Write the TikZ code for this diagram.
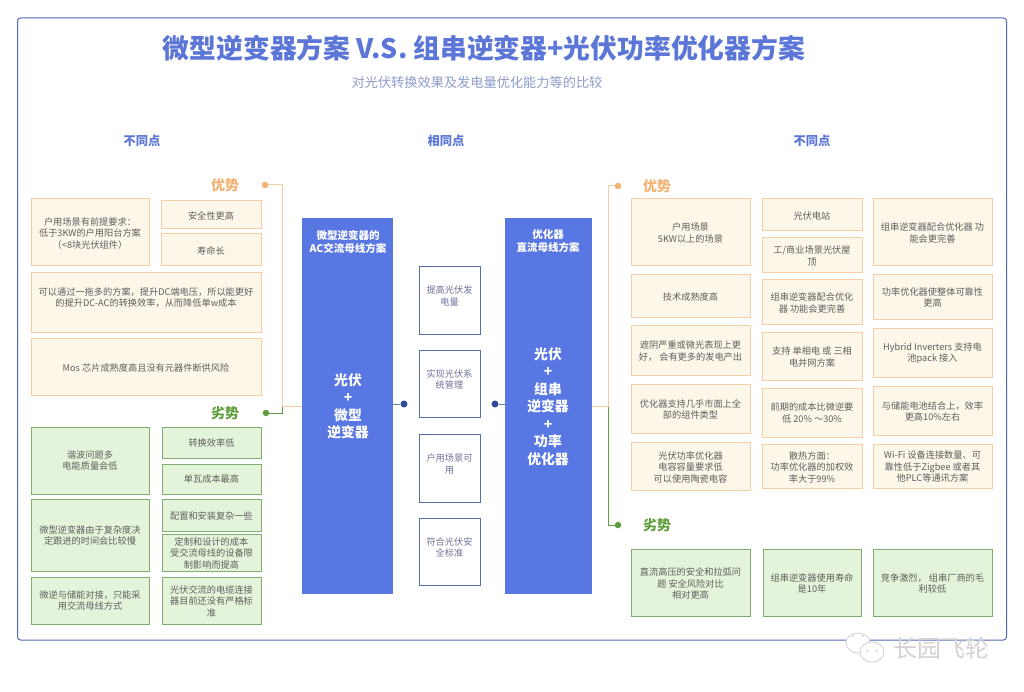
\documentclass[tikz,border=0pt]{standalone}
\usepackage{fontspec}
\setmainfont{Noto Sans CJK SC}
\definecolor{framecol}{HTML}{4F68B8}
\definecolor{titlecol}{HTML}{5B76D6}
\definecolor{subcol}{HTML}{8E9BCB}
\definecolor{bluefill}{HTML}{5877E2}
\definecolor{navycol}{HTML}{2F4A96}
\definecolor{samecol}{HTML}{6E7398}
\definecolor{goodfill}{HTML}{FDF7EA}
\definecolor{gooddraw}{HTML}{F6CDA6}
\definecolor{goodtext}{HTML}{F2B272}
\definecolor{badfill}{HTML}{E4F4DA}
\definecolor{baddraw}{HTML}{80AE70}
\definecolor{badtext}{HTML}{5F9E3E}
\definecolor{boxtextcol}{HTML}{5E5E5E}
\tikzset{
  goodbox/.style={draw=gooddraw, fill=goodfill, line width=1pt},
  badbox/.style={draw=baddraw, fill=badfill, line width=1pt},
  samebox/.style={draw=navycol!80, fill=white, line width=.9pt},
  bluebox/.style={draw=none, fill=bluefill},
  boxtext/.style={text=boxtextcol, align=center, inner sep=0pt, font=\fontsize{9.2}{11.5}\selectfont},
  sametext/.style={text=samecol, align=center, inner sep=0pt, font=\fontsize{9.2}{11.5}\selectfont},
  blueheader/.style={text=white, align=center, inner sep=0pt, font=\bfseries\fontsize{10.5}{13}\selectfont},
  bluebody/.style={text=white, align=center, inner sep=0pt, font=\bfseries\fontsize{13.8}{17.5}\selectfont},
  headtext/.style={text=titlecol, inner sep=0pt, font=\bfseries\fontsize{12.3}{14}\selectfont},
  goodlabel/.style={text=goodtext, inner sep=0pt, font=\bfseries\fontsize{14}{16}\selectfont},
  badlabel/.style={text=badtext, inner sep=0pt, font=\bfseries\fontsize{14}{16}\selectfont},
  gooddot/.style={circle, fill=goodtext, inner sep=0pt, minimum size=6.5pt},
  baddot/.style={circle, fill=badtext, inner sep=0pt, minimum size=6.5pt},
  navydot/.style={circle, fill=navycol, inner sep=0pt, minimum size=7pt},
  goodline/.style={draw=gooddraw, line width=1pt},
  badline/.style={draw=badtext, line width=.9pt},
  navyline/.style={draw=navycol!70, line width=.9pt},
}
% #1 style, #2 name, #3-#6 corners, #7 text height, #8 text
\newcommand\featbox[8]{
  \node[#1, inner sep=0pt, outer sep=0pt, minimum width={(#5-#3)*1pt}, minimum height={(#6-#4)*1pt}] (#2) at ({(#3+#5)/2}, {(#4+#6)/2}) {} ;
  \node[boxtext] (#2text) at ({(#3+#5)/2}, #7) {#8} ;
}
\newcommand\samepoint[4]{
  \node[samebox, inner sep=0pt, outer sep=0pt, minimum width=61pt, minimum height={(#3-#2)*1pt}] (#1) at (449.5, {(#2+#3)/2}) {} ;
  \node[sametext] (#1text) at (449.5, {(#2+#3)/2-4}) {#4} ;
}
\begin{document}
\begin{tikzpicture}[x=1pt, y=-1pt]
    \useasboundingbox (0, 0) rectangle (1024, 692) ;
    \draw[framecol, line width=1pt, rounded corners=3pt] (17.5, 18) rectangle (1006.5, 640) ;
    \node[text=titlecol, inner sep=0pt, font=\bfseries\fontsize{26.8}{30}\selectfont] (title) at (484, 48) {微型逆变器方案 V.S. 组串逆变器+光伏功率优化器方案} ;
    \node[text=subcol, inner sep=0pt, font=\fontsize{13.2}{16}\selectfont] (subtitle) at (477, 82.5) {对光伏转换效果及发电量优化能力等的比较} ;
    \node[headtext] (diffl) at (142, 141) {不同点} ;
    \node[headtext] (same) at (446, 141) {相同点} ;
    \node[headtext] (diffr) at (812, 141) {不同点} ;

    \node[bluebox, minimum width=91pt, minimum height=376pt, inner sep=0pt, outer sep=0pt] (microbar) at (347.5, 406) {} ;
    \node[bluebox, minimum width=87pt, minimum height=376pt, inner sep=0pt, outer sep=0pt] (optbar) at (548.5, 406) {} ;
    \node[blueheader] (microhead) at (348, 241.5) {微型逆变器的\\AC交流母线方案} ;
    \node[blueheader] (opthead) at (548, 241.5) {优化器\\直流母线方案} ;
    \node[bluebody] (microbody) at (348, 406.5) {光伏\\+\\微型\\逆变器} ;
    \node[bluebody] (optbody) at (548, 406.5) {光伏\\+\\组串\\逆变器\\+\\功率\\优化器} ;

    \samepoint{samea}{266}{334}{提高光伏发\\电量}
    \samepoint{sameb}{350}{417}{实现光伏系\\统管理}
    \samepoint{samec}{434}{502}{户用场景可\\用}
    \samepoint{samed}{518}{585}{符合光伏安\\全标准}
    \node[navydot] (dotl) at (404, 404) {} ;
    \node[navydot] (dotr) at (495, 404) {} ;
    \draw[navyline] (microbar.east |- dotl) -- (dotl) ;
    \draw[navyline] (dotr) -- (optbar.west |- dotr) ;

    % left side
    \node[goodlabel] (goodl) at (225, 185) {优势} ;
    \node[badlabel] (badl) at (225, 413) {劣势} ;
    \node[gooddot] (gooddotl) at (265, 185) {} ;
    \node[baddot] (baddotl) at (266, 413) {} ;
    \coordinate (jointl) at (282, 406) ;
    \draw[badline] (baddotl) -- (jointl |- baddotl) -- (jointl) ;
    \draw[goodline] (gooddotl) -- (jointl |- gooddotl) -- (jointl) -- (jointl -| microbar.west) ;
    \featbox{goodbox}{la}{31}{199}{149}{266}{233.5}{户用场景有前提要求：\\低于3KW的户用阳台方案\\（<8块光伏组件）}
    \featbox{goodbox}{lb}{161}{201}{261}{229}{215.5}{安全性更高}
    \featbox{goodbox}{lc}{161}{234}{261}{266}{251}{寿命长}
    \featbox{goodbox}{ld}{31}{273}{261}{332}{297.5}{可以通过一拖多的方案，提升DC端电压，所以能更好\\的提升DC-AC的转换效率，从而降低单w成本}
    \featbox{goodbox}{le}{31}{338}{261}{395}{368}{Mos 芯片成熟度高且没有元器件断供风险}
    \featbox{badbox}{lf}{31}{427}{149}{494}{460.5}{谐波问题多\\电能质量会低}
    \featbox{badbox}{lg}{162}{427}{261}{458}{443}{转换效率低}
    \featbox{badbox}{lh}{162}{464}{261}{494}{479}{单瓦成本最高}
    \featbox{badbox}{li}{31}{499}{149}{571}{535.5}{微型逆变器由于复杂度决\\定跟进的时间会比较慢}
    \featbox{badbox}{lj}{162}{499}{261}{531}{516}{配置和安装复杂一些}
    \featbox{badbox}{lk}{162}{534}{261}{571}{553}{定制和设计的成本\\受交流母线的设备限\\制影响而提高}
    \featbox{badbox}{ll}{31}{577}{149}{624}{600.5}{微逆与储能对接，只能采\\用交流母线方式}
    \featbox{badbox}{lm}{162}{577}{261}{624}{601}{光伏交流的电缆连接\\器目前还没有严格标\\准}

    % right side
    \node[goodlabel] (goodr) at (657, 186) {优势} ;
    \node[badlabel] (badr) at (657, 525) {劣势} ;
    \node[gooddot] (gooddotr) at (618, 186) {} ;
    \node[baddot] (baddotr) at (618, 525) {} ;
    \coordinate (jointr) at (608, 406) ;
    \draw[badline] (jointr) -- (jointr |- baddotr) -- (baddotr) ;
    \draw[goodline] (optbar.east |- jointr) -- (jointr) -- (jointr |- gooddotr) -- (gooddotr) ;
    \featbox{goodbox}{ra}{631}{199}{750}{266}{233}{户用场景\\5KW以上的场景}
    \featbox{goodbox}{rb}{631}{275}{750}{317}{297}{技术成熟度高}
    \featbox{goodbox}{rc}{631}{325}{750}{375}{351}{遮阴严重或微光表现上更\\好， 会有更多的发电产出}
    \featbox{goodbox}{rd}{631}{384}{750}{433}{409.5}{优化器支持几乎市面上全\\部的组件类型}
    \featbox{goodbox}{re}{631}{442}{750}{490}{467}{光伏功率优化器\\电容容量要求低\\可以使用陶瓷电容}
    \featbox{goodbox}{rf}{762}{199}{862}{231}{216}{光伏电站}
    \featbox{goodbox}{rg}{762}{238}{862}{273}{256}{工/商业场景光伏屋\\顶}
    \featbox{goodbox}{rh}{762}{280}{862}{324}{303}{组串逆变器配合优化\\器 功能会更完善}
    \featbox{goodbox}{ri}{762}{332}{862}{380}{357}{支持 单相电 或 三相\\电并网方案}
    \featbox{goodbox}{rj}{762}{388}{862}{437}{413}{前期的成本比微逆要\\低 20\% ～30\%}
    \featbox{goodbox}{rk}{762}{444}{862}{488}{467}{散热方面：\\功率优化器的加权效\\率大于99\%}
    \featbox{goodbox}{rl}{873}{199}{992}{266}{233}{组串逆变器配合优化器 功\\能会更完善}
    \featbox{goodbox}{rm}{873}{275}{992}{319}{297.5}{功率优化器使整体可靠性\\更高}
    \featbox{goodbox}{rn}{873}{328}{992}{377}{353}{Hybrid Inverters 支持电\\池pack 接入}
    \featbox{goodbox}{ro}{873}{386}{992}{435}{411.5}{与储能电池结合上，效率\\更高10\%左右}
    \featbox{goodbox}{rp}{873}{444}{992}{488}{467}{Wi-Fi 设备连接数量、可\\靠性低于Zigbee 或者其\\他PLC等通讯方案}
    \featbox{badbox}{rq}{631}{549}{750}{616}{583.5}{直流高压的安全和拉弧问\\题 安全风险对比\\相对更高}
    \featbox{badbox}{rr}{763}{549}{861}{616}{583.5}{组串逆变器使用寿命\\是10年}
    \featbox{badbox}{rs}{873}{549}{992}{616}{583.5}{竞争激烈， 组串厂商的毛\\利较低}

    % watermark
    \draw[gray!35, fill=white, line width=.8pt] (858, 643) ellipse (12 and 10) ;
    \draw[gray!35, fill=white, line width=.8pt] (872, 652) ellipse (12 and 10) ;
    \fill[gray!35] (853, 636) circle (1.2) (863, 636) circle (1.2) (867, 651) circle (1.2) (877, 651) circle (1.2) ;
    \node[text=gray!35, inner sep=0pt, font=\fontsize{24}{26}\selectfont] (mark) at (941, 648) {长园飞轮} ;
\end{tikzpicture}
\end{document}
